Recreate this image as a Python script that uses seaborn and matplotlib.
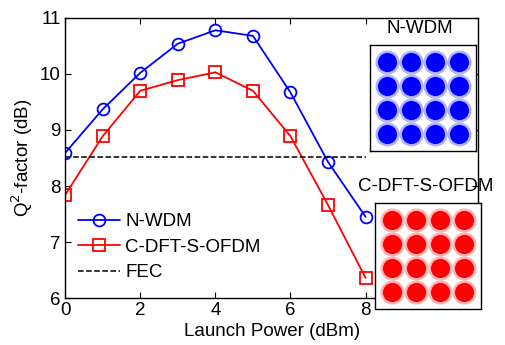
import matplotlib

matplotlib.use("Agg")

import matplotlib.pyplot as plt
import numpy as np
import pandas as pd
import seaborn as sns
from matplotlib.lines import Line2D

# launch power sweep
power_dbm = [0, 1, 2, 3, 4, 5, 6, 7, 8]
q2_nwdm = [8.59, 9.37, 10.02, 10.54, 10.78, 10.68, 9.67, 8.43, 7.45]
q2_cdft = [7.84, 8.89, 9.70, 9.89, 10.03, 9.70, 8.89, 7.66, 6.36]
fec_limit = 8.52
fec_span = [0, 8]

# 16-QAM constellation cluster centres
qam_levels = [-3, -1, 1, 3]

BLUE, RED = "#0000ff", "#ff0000"
FS = 13.5

sns.set_theme(style="ticks")
plt.rcParams["font.family"] = ["Liberation Sans", "DejaVu Sans"]
plt.rcParams["xtick.direction"] = "in"
plt.rcParams["ytick.direction"] = "in"
for key in ["text.color", "axes.labelcolor", "xtick.color", "ytick.color"]:
    plt.rcParams[key] = "black"

fig = plt.figure(figsize=(5.05, 3.45), dpi=100)
ax = fig.add_axes([0.129, 0.136, 0.818, 0.812])

curves = pd.DataFrame({
    "power": power_dbm * 2,
    "q2": q2_nwdm + q2_cdft,
    "scheme": ["N-WDM"] * len(power_dbm) + ["C-DFT-S-OFDM"] * len(power_dbm),
})
sns.lineplot(
    data=curves, x="power", y="q2", hue="scheme", style="scheme",
    palette={"N-WDM": BLUE, "C-DFT-S-OFDM": RED},
    markers={"N-WDM": "o", "C-DFT-S-OFDM": "s"}, dashes=False,
    markersize=8.5, markerfacecolor="none", markeredgewidth=1.3,
    linewidth=1.3, ax=ax, legend=False,
)
for line, col in zip(ax.lines, [BLUE, RED]):
    line.set_markeredgecolor(col)
ax.plot(fec_span, [fec_limit, fec_limit], color="black", linestyle="--",
        linewidth=1.1)

ax.set_xlim(0, 11)
ax.set_ylim(6, 11)
ax.set_xticks([0, 2, 4, 6, 8])
ax.set_yticks([6, 7, 8, 9, 10, 11])
ax.tick_params(labelsize=FS, length=4, width=0.8, top=True, right=True, pad=3)
ax.set_xlabel("Launch Power (dBm)", fontsize=FS, labelpad=3)
ax.set_ylabel("Q$^2$-factor (dB)", fontsize=FS, labelpad=4)
for sp in ax.spines.values():
    sp.set_linewidth(1.0)
    sp.set_color("black")

handles = [
    Line2D([], [], color=BLUE, marker="o", markersize=8.5, markerfacecolor="none",
           markeredgewidth=1.3, linewidth=1.3),
    Line2D([], [], color=RED, marker="s", markersize=8.5, markerfacecolor="none",
           markeredgewidth=1.3, linewidth=1.3),
    Line2D([], [], color="black", linestyle="--", linewidth=1.1),
]
ax.legend(handles, ["N-WDM", "C-DFT-S-OFDM", "FEC"],
          loc="upper left", bbox_to_anchor=(0.0, 0.35), frameon=False,
          fontsize=FS, handlelength=2.2, handletextpad=0.3,
          labelspacing=0.45, borderpad=0.2)

fig.text(0.832, 0.918, "N-WDM", fontsize=FS, ha="center", va="center")
fig.text(0.842, 0.458, "C-DFT-S-OFDM", fontsize=FS, ha="center", va="center")

grid = pd.DataFrame([(i, q) for i in qam_levels for q in qam_levels],
                    columns=["i", "q"])
for rect, col in [([0.733, 0.562, 0.21, 0.307], BLUE),
                  ([0.743, 0.104, 0.21, 0.307], RED)]:
    ins = fig.add_axes(rect)
    ins.set_facecolor("white")
    sns.scatterplot(data=grid, x="i", y="q", s=300, color=col, alpha=0.3,
                    linewidth=0, ax=ins, legend=False)
    sns.scatterplot(data=grid, x="i", y="q", s=190, color=col,
                    linewidth=0, ax=ins, legend=False)
    ins.set_xlim(-4.4, 4.4)
    ins.set_ylim(-4.4, 4.4)
    ins.set_xticks([])
    ins.set_yticks([])
    ins.set_xlabel("")
    ins.set_ylabel("")
    for sp in ins.spines.values():
        sp.set_linewidth(1.0)
        sp.set_color("black")

fig.savefig("out.png", dpi=100)
